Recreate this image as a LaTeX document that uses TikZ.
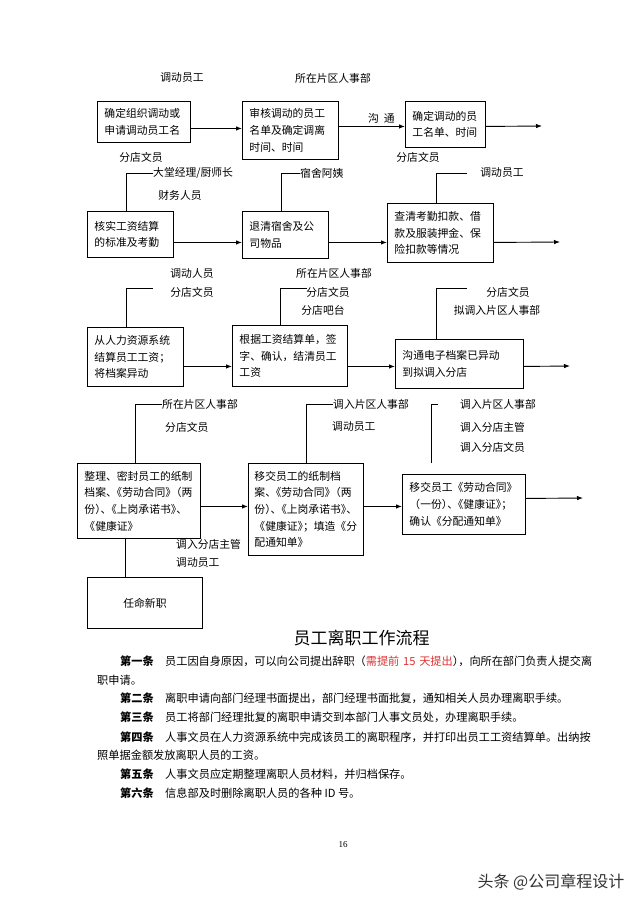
\documentclass[tikz,border=0pt]{standalone}
\usepackage{fontspec}
\setmainfont{Noto Sans CJK SC}
\newfontfamily\numfont{Liberation Serif}
\usetikzlibrary{arrows.meta}
\definecolor{redtxt}{RGB}{222,52,52}
\newcommand\pkern{\kern-0.5em}
\tikzset{
  box/.style={draw, line width=0.9pt, anchor=north west, align=left, inner xsep=7pt, inner ysep=0pt, font=\fontsize{10.8}{16.7}\selectfont},
  lbl/.style={inner sep=0pt, font=\fontsize{10.8}{13}\selectfont},
  arr/.style={line width=0.9pt, -{Latex[length=6pt,width=4.5pt]}},
  con/.style={line width=0.9pt},
  body/.style={inner sep=0pt, anchor=west, font=\fontsize{11.2}{14}\selectfont},
  art/.style={inner sep=0pt, anchor=west, font=\fontsize{11.2}{14}\selectfont\bfseries},
}
\begin{document}
\begin{tikzpicture}[x=1pt,y=-1pt]
\useasboundingbox[fill=white] (0,0) rectangle (640,905);

% ---------- row 1 ----------
\node[box, text width=79pt, minimum height=41pt] (b1) at (97,101) {确定组织调动或\\申请调动员工名};
\node[box, text width=82pt, minimum height=58pt] (b2) at (242,101) {审核调动的员工\\名单及确定调离\\时间、时间};
\node[box, text width=66pt, minimum height=46pt] (b3) at (405,101) {确定调动的员\\工名单、时间};
\coordinate (e1) at (542,126);
\node[lbl] (l1a) at (182,78) {调动员工};
\node[lbl] (l1b) at (333,78) {所在片区人事部};
\node[lbl] (l1c) at (141,157) {分店文员};
\node[lbl] (l1d) at (418,157) {分店文员};
\node[lbl] (gt) at (381.5,118) {沟\hspace{5pt}通};
\draw[arr] ([yshift=-6.5pt]b1.east) coordinate (t1) -- (t1 -| b2.west);
\draw[arr] ([yshift=4pt]b2.east) coordinate (t2) -- (t2 -| b3.west);
\draw[arr] ([yshift=-2pt]b3.east) -- (e1);

% ---------- row 2 ----------
\node[box, text width=72pt, minimum height=46pt] (b4) at (87,211) {核实工资结算\\的标准及考勤};
\node[box, text width=72pt, minimum height=47pt] (b5) at (242,211) {退清宿舍及公\\司物品};
\node[box, text width=92pt, minimum height=59pt] (b6) at (387,203) {查清考勤扣款、借\\款及服装押金、保\\险扣款等情况};
\coordinate (e2) at (560,242);
\node[lbl, anchor=west] (l4a) at (153,173) {大堂经理/厨师长};
\node[lbl] (l4b) at (180,195) {财务人员};
\node[lbl, anchor=west] (l5a) at (300,173) {宿舍阿姨};
\node[lbl] (l6a) at (502,173) {调动员工};
\coordinate (k6) at (467,173);
\draw[arr] ([yshift=-8pt]b4.east) coordinate (t4) -- (t4 -| b5.west);
\draw[arr] ([yshift=-7.5pt]b5.east) coordinate (t5) -- (t5 -| b6.west);
\draw[arr] ([yshift=-9.5pt]b6.east) -- (e2);
\draw[con] ([xshift=-4pt]b4.north) |- (l4a.west);
\draw[con] ([xshift=-4pt]b5.north) |- (l5a.west);
\draw[con] ([xshift=-4pt]b6.north) |- (k6);

% ---------- row 3 ----------
\node[box, text width=82pt, minimum height=59pt] (b7) at (87,327) {从人力资源系统\\结算员工工资；\\将档案异动};
\node[box, text width=101pt, minimum height=61pt] (b8) at (232,325) {根据工资结算单，签\\字、确认，结清员工\\工资};
\node[box, text width=114pt, minimum height=49pt] (b9) at (395,339) {沟通电子档案已异动\\到拟调入分店};
\coordinate (e3) at (570,366);
\node[lbl] (l7a) at (192,273) {调动人员};
\node[lbl] (l7b) at (192,292) {分店文员};
\node[lbl] (l8a) at (334,273) {所在片区人事部};
\node[lbl] (l8b) at (328,292) {分店文员};
\node[lbl] (l8c) at (323,310) {分店吧台};
\node[lbl] (l9a) at (508,292) {分店文员};
\node[lbl] (l9b) at (497,310) {拟调入片区人事部};
\coordinate (k7) at (153,288);
\coordinate (k8) at (307,288);
\coordinate (k9) at (467,288);
\draw[arr] ([yshift=-9.5pt]b7.east) coordinate (t7) -- (t7 -| b8.west);
\draw[arr] ([yshift=-10.5pt]b8.east) coordinate (t8) -- (t8 -| b9.west);
\draw[arr] ([yshift=-2.5pt]b9.east) -- (e3);
\draw[con] ([xshift=-9pt]b7.north) |- (k7);
\draw[con] ([xshift=-9.5pt]b8.north) |- (k8);
\draw[con] ([xshift=-23pt]b9.north) |- (k9);

% ---------- row 4 ----------
\node[box, text width=109pt, minimum height=75pt] (b10) at (77,463) {整理、密封员工的纸制\\档案、\pkern《劳动合同》\pkern（两\\份）\pkern、\pkern《上岗承诺书》\pkern、\\《健康证》};
\node[box, inner xsep=6pt, text width=103pt, minimum height=92pt] (b11) at (248,463) {移交员工的纸制档\\案、\pkern《劳动合同》\pkern（两\\份）\pkern、\pkern《上岗承诺书》\pkern、\\《健康证》\pkern；填造《分\\配通知单》};
\node[box, text width=109pt, minimum height=60pt] (b12) at (402,474) {移交员工《劳动合同》\\（一份）\pkern、\pkern《健康证》\pkern；\\确认《分配通知单》};
\node[draw, line width=0.9pt, anchor=north west, minimum width=115pt, minimum height=51pt, inner sep=0pt, font=\fontsize{10.8}{13}\selectfont] (b13) at (87,577) {任命新职};
\coordinate (e4) at (583,498);
\node[lbl, anchor=west] (l10a) at (162,404) {所在片区人事部};
\node[lbl, anchor=west] (l10b) at (165,427) {分店文员};
\node[lbl, anchor=west] (l11a) at (333,404) {调入片区人事部};
\node[lbl, anchor=west] (l11b) at (332,427) {调动员工};
\node[lbl, anchor=west] (l12a) at (460,404) {调入片区人事部};
\node[lbl, anchor=west] (l12b) at (460,427) {调入分店主管};
\node[lbl, anchor=west] (l12c) at (460,447) {调入分店文员};
\node[lbl, anchor=west] (l13a) at (176,544) {调入分店主管};
\node[lbl, anchor=west] (l13b) at (176,563) {调动员工};
\coordinate (k12a) at (431,463);
\coordinate (k12b) at (438,404);
\coordinate (k13) at (153,538);
\draw[arr] ([yshift=-5.5pt]b10.east) coordinate (t10) -- (t10 -| b11.west);
\draw[arr] ([yshift=3pt]b11.east) coordinate (t11) -- (t11 -| b12.west);
\draw[arr] ([yshift=6pt]b12.east) -- (e4);
\draw[con] ([xshift=-3.5pt]b10.north) |- (l10a.west);
\draw[con] (b11.north) |- (l11a.west);
\draw[con] (k12a) |- (k12b);
\draw[con] ([xshift=-19.5pt]b13.north) |- (k13);

% ---------- text ----------
\node[inner sep=0pt, font=\fontsize{17}{20}\selectfont] (title) at (361.5,638) {员工离职工作流程};

\node[art] (a1) at (120,661) {第一条};
\node[body, text width=427pt] (p1) at (165,661) {\XeTeXlinebreaklocale "zh"\XeTeXlinebreakskip=0pt plus 2pt minus 0.5pt\parfillskip=0pt\noindent 员工因自身原因，可以向公司提出辞职（\textcolor{redtxt}{需提前 15 天提出}）\pkern，向所在部门负责人提交离};
\node[body] (p1b) at (97,680) {职申请。};
\node[art] (a2) at (120,698) {第二条};
\node[body] (p2) at (165,698) {离职申请向部门经理书面提出，部门经理书面批复，通知相关人员办理离职手续。};
\node[art] (a3) at (120,717) {第三条};
\node[body] (p3) at (165,717) {员工将部门经理批复的离职申请交到本部门人事文员处，办理离职手续。};
\node[art] (a4) at (120,737) {第四条};
\node[body, text width=427pt] (p4) at (165,737) {\XeTeXlinebreaklocale "zh"\XeTeXlinebreakskip=0pt plus 2pt minus 0.5pt\parfillskip=0pt\noindent 人事文员在人力资源系统中完成该员工的离职程序，并打印出员工工资结算单。出纳按};
\node[body] (p4b) at (97,755) {照单据金额发放离职人员的工资。};
\node[art] (a5) at (120,774) {第五条};
\node[body] (p5) at (165,774) {人事文员应定期整理离职人员材料，并归档保存。};
\node[art] (a6) at (120,793) {第六条};
\node[body] (p6) at (165,793) {信息部及时删除离职人员的各种 ID 号。};

\node[inner sep=0pt, font=\numfont\fontsize{9}{10}\selectfont] (pg) at (343,845) {16};
\node[inner sep=0pt, text=black!80, font=\fontsize{16}{18}\selectfont] (wm) at (551,882) {头条 @公司章程设计};
\end{tikzpicture}
\end{document}
